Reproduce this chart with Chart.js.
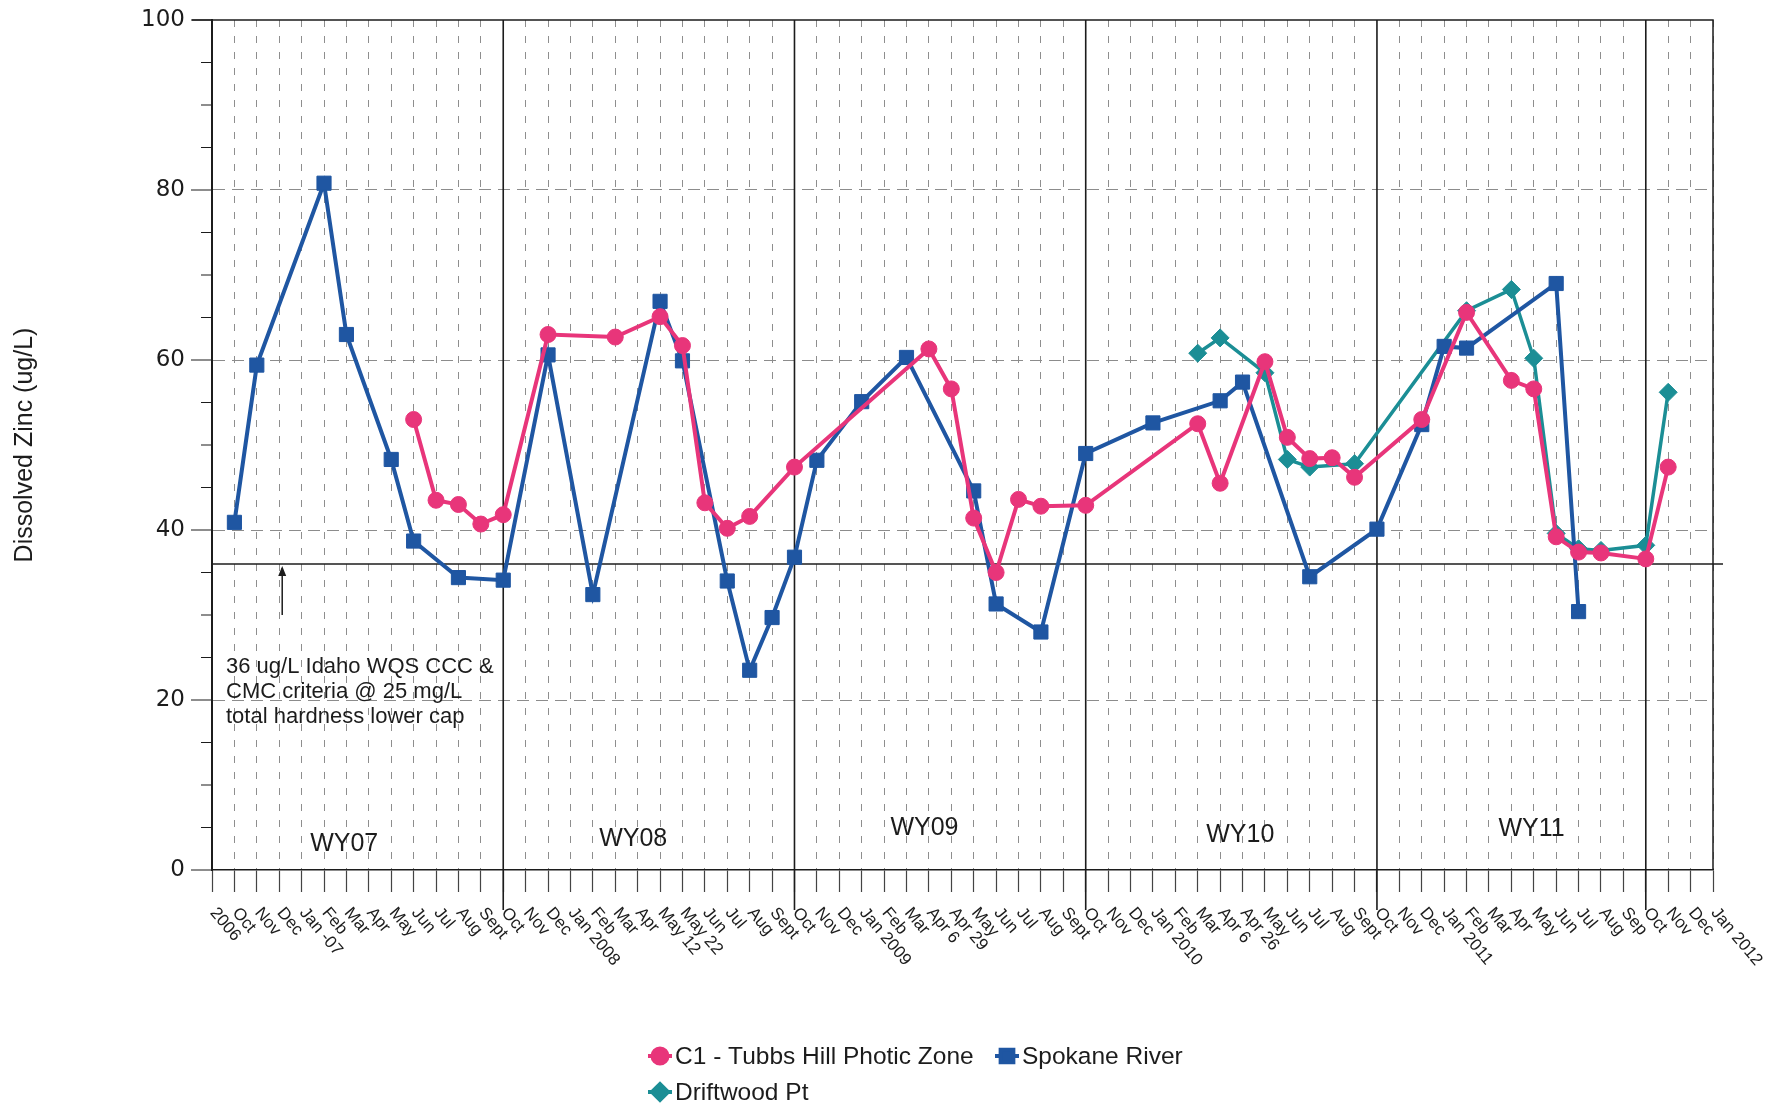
<!DOCTYPE html>
<html>
<head>
<meta charset="utf-8">
<title>Dissolved Zinc</title>
<script src="https://cdn.jsdelivr.net/npm/chart.js@4.4.1/dist/chart.umd.min.js"></script>
<style>
  html, body { margin: 0; padding: 0; background: #ffffff; }
  canvas { display: block; }
</style>
</head>
<body>
<canvas id="chart" width="1769" height="1104"></canvas>
<script>
// Sampling dates (category axis, one entry per sampling slot)
const categories = [
  "2006", "Oct", "Nov", "Dec", "Jan -07", "Feb", "Mar", "Apr", "May", "Jun", "Jul", "Aug", "Sept",
  "Oct", "Nov", "Dec", "Jan 2008", "Feb", "Mar", "Apr", "May 12", "May 22", "Jun", "Jul", "Aug", "Sept",
  "Oct", "Nov", "Dec", "Jan 2009", "Feb", "Mar", "Apr 6", "Apr 29", "May", "Jun", "Jul", "Aug", "Sept",
  "Oct", "Nov", "Dec", "Jan 2010", "Feb", "Mar", "Apr 6", "Apr 26", "May", "Jun", "Jul", "Aug", "Sept",
  "Oct", "Nov", "Dec", "Jan 2011", "Feb", "Mar", "Apr", "May", "Jun", "Jul", "Aug", "Sep",
  "Oct", "Nov", "Dec", "Jan 2012"
];

// Dissolved zinc, ug/L (null = not sampled)
const tubbsHill = [
  null, null, null, null, null, null, null, null, null, 53.0, 43.5, 43.0, 40.7,
  41.8, null, 63.0, null, null, 62.7, null, 65.1, 61.7, 43.2, 40.2, 41.6, null,
  47.4, null, null, null, null, null, 61.3, 56.6, 41.4, 35.0, 43.6, 42.8, null,
  42.9, null, null, null, null, 52.5, 45.5, null, 59.8, 50.9, 48.4, 48.5, 46.2,
  null, null, 53.0, null, 65.6, null, 57.6, 56.6, 39.2, 37.4, 37.3, null,
  36.6, 47.4, null, null
];

const spokaneRiver = [
  null, 40.9, 59.4, null, null, 80.8, 63.0, null, 48.3, 38.7, null, 34.4, null,
  34.1, null, 60.6, null, 32.4, null, null, 66.9, 59.9, null, 34.0, 23.5, 29.7,
  36.8, 48.2, null, 55.1, null, 60.3, null, null, 44.6, 31.3, null, 28.0, null,
  49.0, null, null, 52.6, null, null, 55.2, 57.4, null, null, 34.5, null, null,
  40.1, null, 52.4, 61.6, 61.4, null, null, null, 69.0, 30.4, null, null,
  null, null, null, null
];

const driftwoodPt = [
  null, null, null, null, null, null, null, null, null, null, null, null, null,
  null, null, null, null, null, null, null, null, null, null, null, null, null,
  null, null, null, null, null, null, null, null, null, null, null, null, null,
  null, null, null, null, null, 60.8, 62.6, null, 58.5, 48.3, 47.4, null, 47.8,
  null, null, null, null, 65.8, null, 68.3, 60.2, 39.6, 37.8, 37.6, null,
  38.2, 56.2, null, null
];

const seriesNames = ["C1 - Tubbs Hill Photic Zone", "Spokane River", "Driftwood Pt"];
const yTickValues = [0, 20, 40, 60, 80, 100];

// Water years: label text and the October category that closes the previous year
const waterYears = ["WY07", "WY08", "WY09", "WY10", "WY11"];
const waterYearBoundaries = [13, 26, 39, 52, 64];

// Idaho water quality criterion
const criterionValue = 36;
const criterionNote = ["36 ug/L Idaho WQS CCC &", "CMC criteria @ 25 mg/L", "total hardness lower cap"];

// ---- styling / layout ----
const FONT = '"Liberation Sans", Arial, Helvetica, sans-serif';
const WIDE_FONT = '"DejaVu Sans", Verdana, sans-serif';
const INK = '#1c1c1c';
const COLORS = { pink: '#E8357A', blue: '#1F56A2', teal: '#1B8E95' };
const waterYearLabelAt = [[5.9, 3.1], [18.8, 3.6], [31.8, 4.9], [45.9, 4.1], [58.9, 4.8]];

const legendItems = [
  { text: seriesNames[0], color: COLORS.pink, style: 'circle', radius: 7.5, x: 660, y: 1056 },
  { text: seriesNames[1], color: COLORS.blue, style: 'rect', radius: 9, x: 1007, y: 1056 },
  { text: seriesNames[2], color: COLORS.teal, style: 'rectRot', radius: 8, x: 660, y: 1092 }
];

const decorations = {
  id: 'decorations',
  beforeDatasetsDraw(chart) {
    const { ctx, chartArea: a, scales: { x, y } } = chart;
    ctx.save();
    ctx.strokeStyle = INK;
    ctx.setLineDash([]);

    // top and right frame
    ctx.lineWidth = 1.5;
    ctx.beginPath();
    ctx.moveTo(a.left - 20, a.top);
    ctx.lineTo(a.right, a.top);
    ctx.lineTo(a.right, a.bottom);
    ctx.stroke();

    // water-year separators, running down past the axis
    ctx.lineWidth = 1.6;
    ctx.beginPath();
    waterYearBoundaries.forEach(i => {
      const px = x.getPixelForValue(i);
      ctx.moveTo(px, a.top);
      ctx.lineTo(px, a.bottom + 40);
    });
    ctx.stroke();

    // criterion line
    const cy = y.getPixelForValue(criterionValue);
    ctx.lineWidth = 1.6;
    ctx.beginPath();
    ctx.moveTo(a.left, cy);
    ctx.lineTo(a.right + 10, cy);
    ctx.stroke();

    // y tick marks: long at labelled values, short every 5
    ctx.lineWidth = 1.2;
    ctx.beginPath();
    for (let v = 0; v <= 100; v += 5) {
      const py = y.getPixelForValue(v);
      const len = yTickValues.includes(v) ? 21 : 11;
      ctx.moveTo(a.left - len, py);
      ctx.lineTo(a.left, py);
    }
    ctx.stroke();
    ctx.restore();
  },
  afterDraw(chart) {
    const { ctx, chartArea: a, scales: { x, y } } = chart;
    ctx.save();
    ctx.fillStyle = INK;

    // rotated category labels hanging from each tick
    ctx.font = `17px ${FONT}`;
    ctx.textAlign = 'left';
    ctx.textBaseline = 'middle';
    categories.forEach((lab, i) => {
      const px = x.getPixelForValue(i);
      ctx.save();
      ctx.translate(px + 1, a.bottom + 40);
      ctx.rotate(50 * Math.PI / 180);
      ctx.fillText(lab, 0, 0);
      ctx.restore();
    });

    // water-year names
    ctx.font = `25px ${FONT}`;
    ctx.textAlign = 'center';
    waterYears.forEach((name, k) => {
      const [ci, v] = waterYearLabelAt[k];
      ctx.fillText(name, x.getPixelForValue(ci), y.getPixelForValue(v));
    });

    // criterion note with arrow
    const cy = y.getPixelForValue(criterionValue);
    const ax = x.getPixelForValue(3) + 3;
    ctx.strokeStyle = INK;
    ctx.lineWidth = 1.5;
    ctx.beginPath();
    ctx.moveTo(ax, cy + 4);
    ctx.lineTo(ax, 615);
    ctx.stroke();
    ctx.beginPath();
    ctx.moveTo(ax, cy + 2);
    ctx.lineTo(ax - 4, cy + 12);
    ctx.lineTo(ax + 4, cy + 12);
    ctx.closePath();
    ctx.fill();

    ctx.font = `22px ${FONT}`;
    ctx.textAlign = 'left';
    criterionNote.forEach((line, k) => {
      ctx.fillText(line, a.left + 14, 667 + k * 25);
    });

    // legend
    ctx.font = `24.5px ${FONT}`;
    legendItems.forEach(it => {
      ctx.strokeStyle = it.color;
      ctx.fillStyle = it.color;
      ctx.lineWidth = 4;
      ctx.beginPath();
      ctx.moveTo(it.x - 12, it.y);
      ctx.lineTo(it.x + 12, it.y);
      ctx.stroke();
      Chart.helpers.drawPoint(ctx, { pointStyle: it.style, radius: it.radius, borderWidth: 1, rotation: 0 }, it.x, it.y);
      ctx.fillStyle = INK;
      ctx.fillText(it.text, it.x + 15, it.y + 1);
    });
    ctx.restore();
  }
};

function lineSeries(label, data, color, style, radius, width) {
  return {
    label, data,
    borderColor: color,
    backgroundColor: color,
    pointBackgroundColor: color,
    pointBorderColor: color,
    pointStyle: style,
    pointRadius: radius,
    pointBorderWidth: 1,
    borderWidth: width,
    tension: 0,
    spanGaps: true
  };
}

new Chart(document.getElementById('chart'), {
  type: 'line',
  data: {
    labels: categories,
    datasets: [
      lineSeries(seriesNames[0], tubbsHill, COLORS.pink, 'circle', 8, 4),
      lineSeries(seriesNames[1], spokaneRiver, COLORS.blue, 'rect', 10, 4),
      lineSeries(seriesNames[2], driftwoodPt, COLORS.teal, 'rectRot', 9, 3.5)
    ]
  },
  options: {
    responsive: false,
    animation: false,
    devicePixelRatio: 1,
    layout: { padding: { top: 20, right: 56, bottom: 0, left: 0 } },
    plugins: { legend: { display: false }, tooltip: { enabled: false } },
    scales: {
      x: {
        type: 'category',
        offset: false,
        afterFit(scale) { scale.height = 234; },
        ticks: { display: false },
        grid: {
          display: true,
          drawOnChartArea: true,
          drawTicks: true,
          tickLength: 22,
          tickWidth: 1.2,
          tickColor: '#444',
          lineWidth: 1,
          color: ctx => (ctx.index === 0 || waterYearBoundaries.includes(ctx.index)) ? 'rgba(0,0,0,0)' : '#8e8e8e'
        },
        border: { display: true, color: INK, width: 1.6, dash: [7, 9] }
      },
      y: {
        min: 0,
        max: 100,
        afterFit(scale) { scale.width = 212; },
        afterBuildTicks(scale) { scale.ticks = yTickValues.map(v => ({ value: v })); },
        ticks: { padding: 0, color: INK, font: { family: WIDE_FONT, size: 23 } },
        title: {
          display: true,
          text: 'Dissolved Zinc (ug/L)',
          color: INK,
          font: { family: FONT, size: 25 },
          padding: { top: 10, bottom: 0 }
        },
        grid: {
          drawTicks: true,
          tickLength: 27,
          tickColor: 'rgba(0,0,0,0)',
          lineWidth: 1,
          color: ctx => (ctx.tick && ctx.tick.value > 0 && ctx.tick.value < 100) ? '#8c8c8c' : 'rgba(0,0,0,0)'
        },
        border: { display: true, color: INK, width: 2, dash: [12, 7] }
      }
    }
  },
  plugins: [decorations]
});
</script>
</body>
</html>
